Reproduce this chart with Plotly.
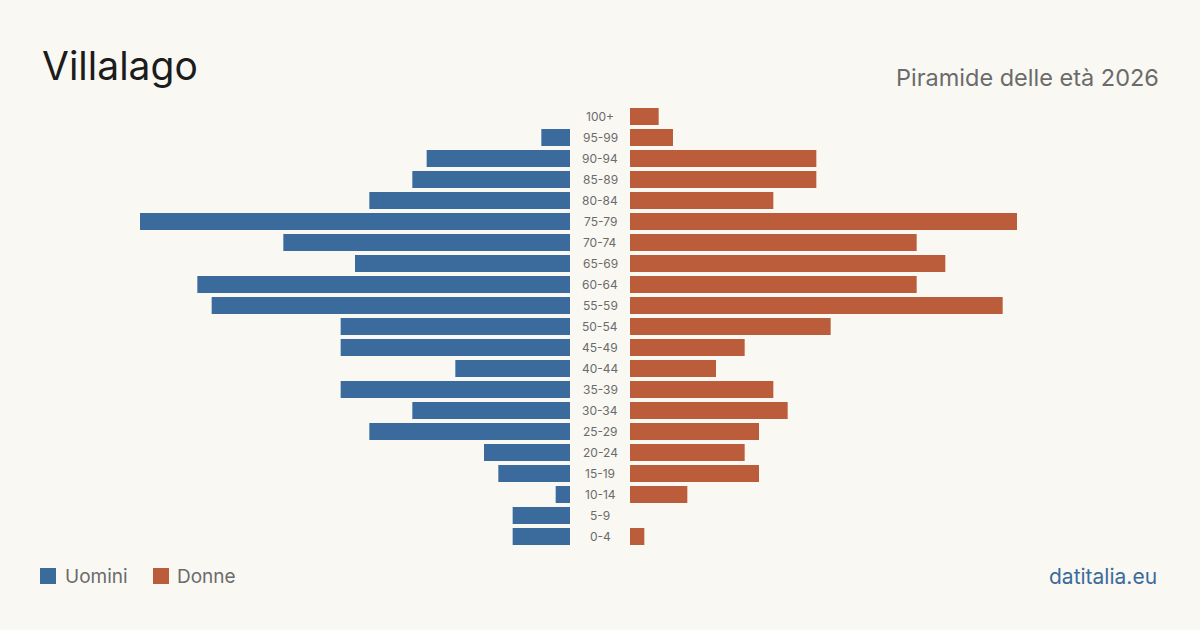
import plotly.graph_objects as go

age_groups = ["0-4", "5-9", "10-14", "15-19", "20-24", "25-29", "30-34", "35-39",
              "40-44", "45-49", "50-54", "55-59", "60-64", "65-69", "70-74", "75-79",
              "80-84", "85-89", "90-94", "95-99", "100+"]
men = [4, 4, 1, 5, 6, 14, 11, 16, 8, 16, 16, 25, 26, 15, 20, 30, 14, 11, 10, 2, 0]
women = [1, 0, 4, 9, 8, 9, 11, 10, 6, 8, 14, 26, 20, 22, 20, 27, 10, 13, 13, 3, 2]

title = "Villalago"
subtitle = "Piramide delle età 2026"
source = "datitalia.eu"
men_label = "Uomini"
women_label = "Donne"

BLUE = "#3a6b9c"
ORANGE = "#bb5c3b"
BG = "#faf8f3"
FONT = "Inter, 'Liberation Sans', sans-serif"

W, H = 1200, 630
xmax = max(max(men), max(women))

fig = go.Figure()
fig.add_trace(go.Bar(y=age_groups, x=men, orientation="h", marker_color=BLUE,
                     marker_line_width=0,
                     xaxis="x", yaxis="y", showlegend=False, hoverinfo="x+y"))
fig.add_trace(go.Bar(y=age_groups, x=women, orientation="h", marker_color=ORANGE,
                     marker_line_width=0,
                     xaxis="x2", yaxis="y", showlegend=False, hoverinfo="x+y"))

ydom = [1 - 547 / H, 1 - 106 / H]

annotations = []
for g in age_groups:
    annotations.append(dict(x=0.5, xref="paper", y=g, yref="y", text=g, showarrow=False,
                            xanchor="center", yanchor="middle",
                            font=dict(family=FONT, size=12, color="#6b6b6b")))

annotations += [
    dict(x=40 / W, y=1 - 66 / H, xref="paper", yref="paper", text=title, showarrow=False,
         xanchor="left", yanchor="middle", font=dict(family=FONT, size=39, color="#1c1c1c")),
    dict(x=1161 / W, y=1 - 77 / H, xref="paper", yref="paper", text=subtitle, showarrow=False,
         xanchor="right", yanchor="middle", font=dict(family=FONT, size=23.5, color="#6b6b6b")),
    dict(x=63 / W, y=1 - 576 / H, xref="paper", yref="paper", text=men_label, showarrow=False,
         xanchor="left", yanchor="middle", font=dict(family=FONT, size=19, color="#6b6b6b")),
    dict(x=175 / W, y=1 - 576 / H, xref="paper", yref="paper", text=women_label, showarrow=False,
         xanchor="left", yanchor="middle", font=dict(family=FONT, size=19, color="#6b6b6b")),
    dict(x=1159 / W, y=1 - 576 / H, xref="paper", yref="paper", text=source, showarrow=False,
         xanchor="right", yanchor="middle", font=dict(family=FONT, size=21, color=BLUE)),
]

shapes = [
    dict(type="rect", xref="paper", yref="paper", x0=40 / W, x1=56 / W,
         y0=1 - 584 / H, y1=1 - 568 / H, fillcolor=BLUE, line_width=0),
    dict(type="rect", xref="paper", yref="paper", x0=153 / W, x1=169 / W,
         y0=1 - 584 / H, y1=1 - 568 / H, fillcolor=ORANGE, line_width=0),
]

fig.update_layout(
    width=W, height=H,
    margin=dict(l=0, r=0, t=0, b=0),
    paper_bgcolor=BG, plot_bgcolor=BG,
    bargap=0.19,
    xaxis=dict(domain=[140 / W, 570 / W], range=[xmax, 0], visible=False, fixedrange=True),
    xaxis2=dict(domain=[630 / W, 1060 / W], range=[0, xmax], visible=False, fixedrange=True),
    yaxis=dict(domain=ydom, type="category", categoryorder="array", categoryarray=age_groups,
               visible=False, fixedrange=True),
    annotations=annotations,
    shapes=shapes,
    font=dict(family=FONT),
)

fig.write_html("out.html")
